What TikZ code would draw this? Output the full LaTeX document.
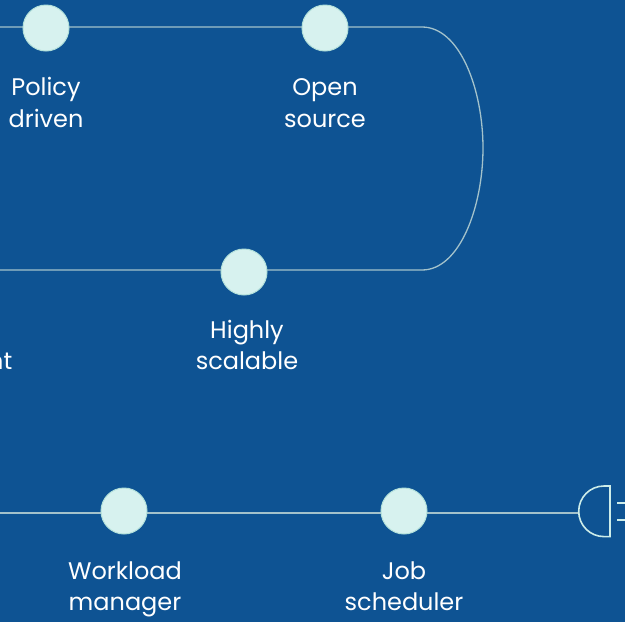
\documentclass[tikz,border=0pt]{standalone}
\usepackage{fontspec}
\setmainfont{Poppins}
\begin{document}
\definecolor{bgblue}{HTML}{0E5393}
\definecolor{wire}{HTML}{A3C2CB}
\definecolor{dotfill}{HTML}{D7F2EF}
\definecolor{dotedge}{HTML}{B2E0DA}
\definecolor{gateline}{HTML}{CDEDE9}
\begin{tikzpicture}[x=1pt,y=-1pt,
  wireline/.style={draw=wire,line width=1.3pt},
  dot/.style={circle,fill=dotfill,draw=dotedge,line width=1pt,minimum size=46pt,inner sep=0pt},
  caption/.style={text=white,anchor=base,font=\fontsize{24}{32}\selectfont,inner sep=0pt}]
  % canvas
  \fill[bgblue] (0,0) rectangle (625,622);
  \useasboundingbox (0,0) rectangle (625,622);

  % loop: top track, rounded return, middle track
  \coordinate (tl) at (0,27);
  \coordinate (tr) at (422,27);
  \coordinate (ml) at (0,270);
  \coordinate (mr) at (422,270);
  \coordinate (far) at (483,148);
  \draw[wireline] (tl) -- (tr) .. controls (460,27) and (483,90) .. (far)
        .. controls (483,206) and (460,270) .. (mr) -- (ml);

  % bottom track to the gate
  \coordinate (bl) at (0,513);
  \coordinate (gin) at (579,513);
  \draw[wireline] (bl) -- (gin);

  % gate
  \draw[gateline,line width=1.6pt] (610,486) -- (604,486) arc[start angle=270,end angle=90,radius=25.3] -- (610,536.6) -- cycle;
  \coordinate (o1s) at (617,503);
  \coordinate (o1e) at (626,503);
  \coordinate (o2s) at (617,520);
  \coordinate (o2e) at (626,520);
  \draw[gateline,line width=1.6pt] (o1s) -- (o1e) (o2s) -- (o2e);

  % stations
  \node[dot] (policy) at (46,28) {};
  \node[dot] (open) at (325,28) {};
  \node[dot] (scal) at (244,272) {};
  \node[dot] (work) at (124,511) {};
  \node[dot] (job) at (404,511) {};

  % captions, one node per line, placed on their baselines
  \node[caption] (policyA) at (46,95) {Policy};
  \node[caption] (policyB) at (46,127) {driven};
  \node[caption] (openA) at (325,95) {Open};
  \node[caption] (openB) at (325,127) {source};
  \node[caption] (scalA) at (247,338) {Highly};
  \node[caption] (scalB) at (247,369.5) {scalable};
  \node[caption,anchor=base east] (cutT) at (12.5,369.5) {nt};
  \node[caption] (workA) at (125,579) {Workload};
  \node[caption] (workB) at (125,610.5) {manager};
  \node[caption] (jobA) at (404,579) {Job};
  \node[caption] (jobB) at (404,610.5) {scheduler};
\end{tikzpicture}
\end{document}
